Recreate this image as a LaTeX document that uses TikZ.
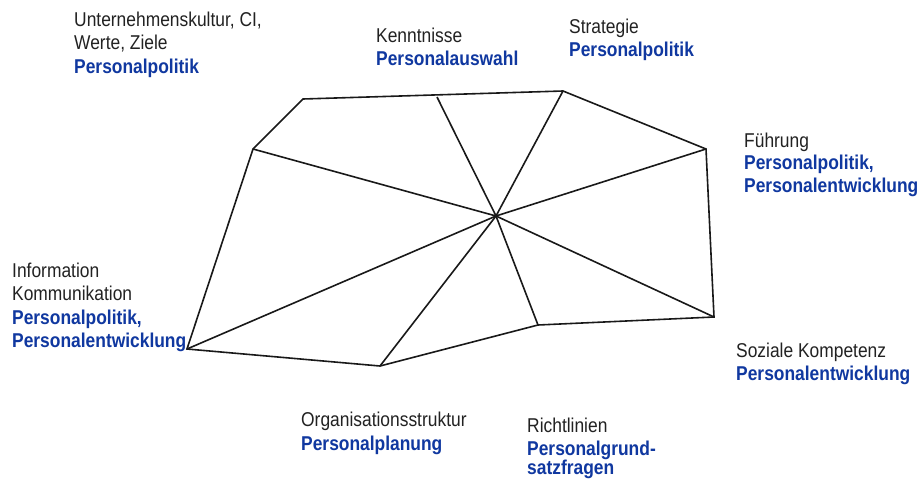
\documentclass[tikz,border=0pt]{standalone}
\usepackage{fontspec}
\setmainfont{Liberation Sans}[FakeStretch=0.87]
\definecolor{lblblue}{RGB}{16,56,160}
\definecolor{lblgray}{RGB}{34,34,34}
\begin{document}
\begin{tikzpicture}[x=1pt,y=-1pt,
  edge/.style={line width=1.6pt,draw=black!90,line join=miter},
  plain/.style={anchor=base west,inner sep=0pt,text=lblgray,font=\fontsize{20}{24}\selectfont},
  blue/.style={anchor=base west,inner sep=0pt,text=lblblue,font=\fontsize{20}{24}\selectfont\bfseries}]
\useasboundingbox (0,0) rectangle (920,479);
\fill[white] (0,0) rectangle (920,479);
% vertices
\coordinate (A) at (303,99);
\coordinate (B) at (563,91);
\coordinate (C) at (706,149);
\coordinate (D) at (714,317);
\coordinate (E) at (538,325);
\coordinate (F) at (380,366);
\coordinate (G) at (187,349);
\coordinate (H) at (253,149);
\coordinate (T) at (437,97);
\coordinate (M) at (496,216);
\draw[edge] (A) -- (B) -- (C) -- (D) -- (E) -- (F) -- (G) -- (H) -- cycle;
\foreach \p in {T,B,C,D,E,F,G,H} \draw[edge] (M) -- (\p);
% labels
\node[plain] (u1) at (74,26) {Unternehmenskultur, CI,};
\node[plain] (u2) at (74,49.5) {Werte, Ziele};
\node[blue]  (u3) at (74,73) {Personalpolitik};
\node[plain] (k1) at (376,42) {Kenntnisse};
\node[blue]  (k2) at (376,65) {Personalauswahl};
\node[plain] (s1) at (569,33) {Strategie};
\node[blue]  (s2) at (569,56) {Personalpolitik};
\node[plain] (f1) at (744,147) {Führung};
\node[blue]  (f2) at (744,169.5) {Personalpolitik,};
\node[blue]  (f3) at (744,192) {Personalentwicklung};
\node[plain] (i1) at (12,277) {Information};
\node[plain] (i2) at (12,300.5) {Kommunikation};
\node[blue]  (i3) at (12,324.5) {Personalpolitik,};
\node[blue]  (i4) at (12,347.5) {Personalentwicklung};
\node[plain] (o1) at (301,426) {Organisationsstruktur};
\node[blue]  (o2) at (301,450) {Personalplanung};
\node[plain] (r1) at (527,432.5) {Richtlinien};
\node[blue]  (r2) at (527,455.5) {Personalgrund-};
\node[blue]  (r3) at (527,474.5) {satzfragen};
\node[plain] (z1) at (736,357) {Soziale Kompetenz};
\node[blue]  (z2) at (736,380) {Personalentwicklung};
\end{tikzpicture}
\end{document}
